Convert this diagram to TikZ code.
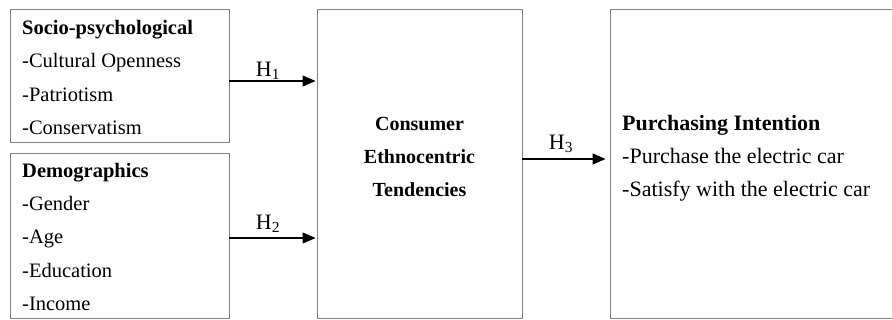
\documentclass[tikz,border=0pt]{standalone}
\usepackage{fontspec}
\setmainfont{Liberation Serif}
\usetikzlibrary{arrows.meta}
\tikzset{
  box/.style={draw=black!50, line width=0.9pt, inner sep=0pt},
  txtl/.style={anchor=base west, inner sep=0pt, font=\fontsize{20.5}{24}\selectfont},
  txtc/.style={anchor=base, inner sep=0pt, font=\fontsize{20}{24}\selectfont\bfseries},
  txtr/.style={anchor=base west, inner sep=0pt, font=\fontsize{22}{26}\selectfont},
  conn/.style={draw=black, line width=1.1pt, -{Triangle[length=13pt,width=11pt]}},
  hlab/.style={inner sep=0pt, font=\fontsize{22}{24}\selectfont},
}
\begin{document}
\begin{tikzpicture}[x=1pt,y=-1pt]
\useasboundingbox (0,0) rectangle (892,320);
% boxes
\node[box, minimum width=219pt, minimum height=132.7pt] (b1) at (119.5,75.65) {};
\node[box, minimum width=219pt, minimum height=165.3pt] (b2) at (119.5,235.65) {};
\node[box, minimum width=205pt, minimum height=309pt] (b3) at (419.5,163.8) {};
\node[box, minimum width=285pt, minimum height=309pt] (b4) at (752.5,163.8) {};
% box 1 text
\node[txtl] (t1a) at (22,35) {\textbf{Socio-psychological}};
\node[txtl] (t1b) at (22,68) {-Cultural Openness};
\node[txtl] (t1c) at (22,101.5) {-Patriotism};
\node[txtl] (t1d) at (22,134.5) {-Conservatism};
% box 2 text
\node[txtl] (t2a) at (22,177.7) {\textbf{Demographics}};
\node[txtl] (t2b) at (22,211) {-Gender};
\node[txtl] (t2c) at (22,244) {-Age};
\node[txtl] (t2d) at (22,277.5) {-Education};
\node[txtl] (t2e) at (22,310.5) {-Income};
% box 3 text
\node[txtc] (t3a) at (419.5,131) {Consumer};
\node[txtc] (t3b) at (419.5,164) {Ethnocentric};
\node[txtc] (t3c) at (419.5,196.5) {Tendencies};
% box 4 text
\node[txtr] (t4a) at (622,131) {\textbf{Purchasing Intention}};
\node[txtr] (t4b) at (622,164) {-Purchase the electric car};
\node[txtr] (t4c) at (622,196.5) {-Satisfy with the electric car};
% connectors
\draw[conn] (b1.east |- 0,81) -- ([xshift=-1pt]b3.west |- 0,81);
\draw[conn] (b2.east |- 0,238) -- ([xshift=-1pt]b3.west |- 0,238);
\draw[conn] (b3.east |- 0,159) -- ([xshift=-4pt]b4.west |- 0,159);
% labels
\node[hlab] (h1) at (268,71) {H\textsubscript{1}};
\node[hlab] (h2) at (268,224) {H\textsubscript{2}};
\node[hlab] (h3) at (561,144) {H\textsubscript{3}};
\end{tikzpicture}
\end{document}
